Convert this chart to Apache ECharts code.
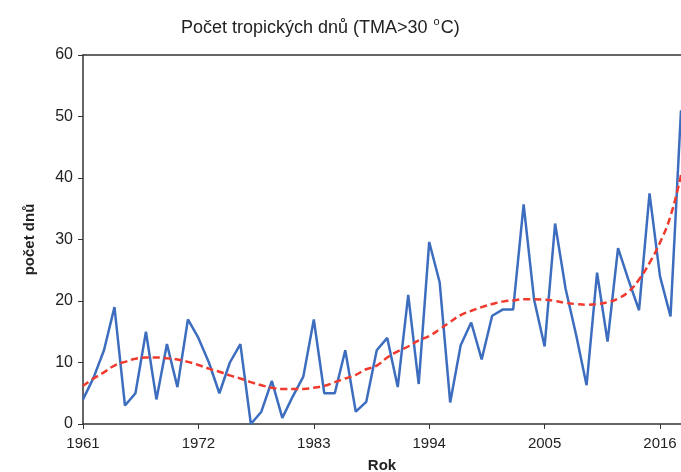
<!DOCTYPE html>
<html>
<head>
<meta charset="utf-8">
<script src="https://cdn.jsdelivr.net/npm/echarts@6/dist/echarts.min.js"></script>
<style>
  html, body { margin: 0; padding: 0; background: #fff; }
  #graph { width: 681px; height: 472px; }
</style>
</head>
<body>
<div id="graph"></div>
<script>
// roky 1961 - 2018
const firstYear = 1961
const lastYear = 2018
const years = []
for (let y = firstYear; y <= lastYear; y++) years.push(String(y))

// pocet tropickych dnu
const tropDays = [
  4, 7.5, 12, 19, 3, 5, 15, 4, 13, 6,
  17, 14, 10, 5, 10, 13, 0, 2, 7, 1,
  4.5, 7.7, 17, 5, 5, 12, 2, 3.6, 12, 14,
  6, 21, 6.5, 29.6, 23, 3.5, 12.8, 16.5, 10.5, 17.6,
  18.6, 18.6, 35.7, 20.2, 12.6, 32.6, 22, 14.5, 6.3, 24.6,
  13.4, 28.6, 23.4, 18.5, 37.5, 24, 17.5, 51
]

// polynomicky trend (cervena carkovana)
const trend = [
  6.2, 7.4, 8.4, 9.5, 10.1, 10.6, 10.8, 10.8, 10.7, 10.5,
  10.1, 9.6, 9.0, 8.5, 7.9, 7.4, 6.8, 6.3, 5.9, 5.7,
  5.7, 5.7, 5.9, 6.2, 6.8, 7.4, 8.0, 8.9, 9.5, 10.8,
  11.8, 12.6, 13.6, 14.3, 15.4, 16.6, 17.7, 18.4, 19.0, 19.5,
  19.9, 20.1, 20.3, 20.3, 20.2, 20.0, 19.7, 19.5, 19.4, 19.5,
  19.8, 20.4, 21.5, 23.5, 26.2, 29.5, 33.8, 40.5
]

const font = 'Liberation Sans, Arial, sans-serif'
const axisColor = '#333'

var myChart = echarts.init(document.getElementById('graph'))

myChart.setOption({
  animation: false,
  title: {
    text: '{main|Počet tropických dnů (TMA>30 }{sup|o}{main|C)}',
    left: 176,
    top: 10,
    textStyle: {
      fontFamily: font,
      fontSize: 18,
      fontWeight: 'normal',
      color: '#222',
      rich: {
        main: { fontFamily: font, fontSize: 18, lineHeight: 22, color: '#222', verticalAlign: 'bottom' },
        sup: { fontFamily: font, fontSize: 11, lineHeight: 11, color: '#222', verticalAlign: 'top', padding: [1, 1, 0, 1] }
      }
    }
  },
  grid: {
    left: 83,
    right: 0,
    top: 55,
    bottom: 48,
    outerBoundsMode: 'none'
  },
  xAxis: [
    {
      type: 'category',
      data: years,
      boundaryGap: false,
      name: 'Rok',
      nameLocation: 'middle',
      nameGap: 34,
      nameTextStyle: { fontFamily: font, fontSize: 15, fontWeight: 'bold', color: '#222' },
      axisLine: { lineStyle: { color: axisColor, width: 1.5 } },
      axisTick: { interval: 10, length: 5, lineStyle: { color: axisColor } },
      axisLabel: { interval: 10, margin: 12, fontFamily: font, fontSize: 15, color: '#222' },
      splitLine: { show: false }
    },
    {
      type: 'category',
      data: years,
      boundaryGap: false,
      position: 'top',
      axisLine: { lineStyle: { color: axisColor, width: 1.5 } },
      axisTick: { show: false },
      axisLabel: { show: false },
      splitLine: { show: false }
    }
  ],
  yAxis: {
    type: 'value',
    min: 0,
    max: 60,
    interval: 10,
    name: 'počet dnů',
    nameLocation: 'middle',
    nameGap: 46,
    nameRotate: 90,
    nameTextStyle: { fontFamily: font, fontSize: 15, fontWeight: 'bold', color: '#222' },
    axisLine: { show: true, lineStyle: { color: axisColor, width: 1.5 } },
    axisTick: { show: true, length: 5, lineStyle: { color: axisColor } },
    axisLabel: { margin: 10, fontFamily: font, fontSize: 16, color: '#222' },
    splitLine: { show: false }
  },
  series: [
    {
      name: 'počet dnů',
      type: 'line',
      data: tropDays,
      showSymbol: false,
      lineStyle: { color: '#3c6dbf', width: 2.5 },
      z: 2
    },
    {
      name: 'trend',
      type: 'line',
      data: trend,
      smooth: true,
      showSymbol: false,
      lineStyle: { color: '#f03a2e', width: 2.5, type: [7, 4] },
      z: 3
    }
  ]
})
</script>
</body>
</html>
